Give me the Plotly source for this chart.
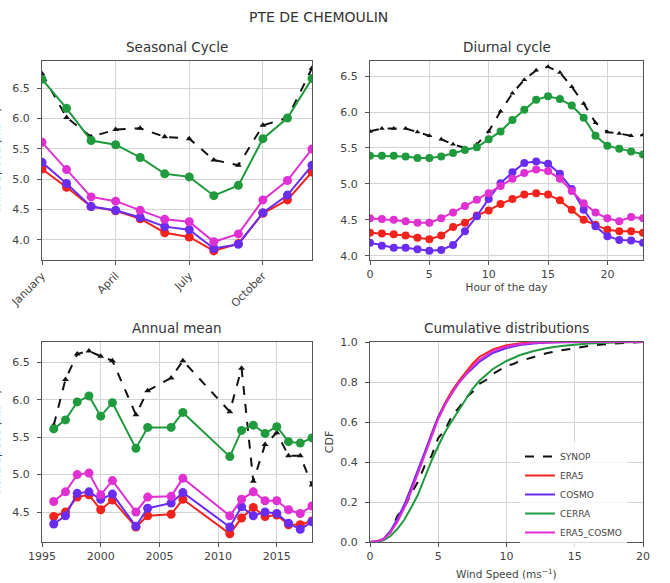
import plotly.graph_objects as go

# ---------------- DATA ----------------
series_names = ["SYNOP", "ERA5", "COSMO", "CERRA", "ERA5_COSMO"]

month_idx = [0, 1, 2, 3, 4, 5, 6, 7, 8, 9, 10, 11]
month_ticks = [0, 3, 6, 9]
month_labels = ["January", "April", "July", "October"]
season_synop = [6.74, 6.02, 5.70, 5.82, 5.84, 5.70, 5.67, 5.32, 5.23, 5.89, 6.01, 6.83]
season_era5 = [5.17, 4.87, 4.55, 4.48, 4.35, 4.12, 4.05, 3.82, 3.94, 4.44, 4.66, 5.12]
season_cosmo = [5.28, 4.93, 4.55, 4.49, 4.37, 4.22, 4.17, 3.86, 3.93, 4.45, 4.74, 5.23]
season_cerra = [6.65, 6.17, 5.64, 5.57, 5.36, 5.09, 5.04, 4.73, 4.90, 5.67, 6.01, 6.66]
season_era5cosmo = [5.61, 5.16, 4.71, 4.64, 4.49, 4.34, 4.30, 3.97, 4.10, 4.66, 4.98, 5.50]

hours = list(range(24))
diur_synop = [5.73, 5.77, 5.77, 5.77, 5.72, 5.67, 5.62, 5.55, 5.50, 5.55, 5.73, 6.01,
              6.26, 6.45, 6.58, 6.63, 6.55, 6.35, 6.12, 5.85, 5.72, 5.70, 5.67, 5.68]
diur_era5 = [4.32, 4.31, 4.30, 4.28, 4.25, 4.23, 4.28, 4.40, 4.46, 4.56, 4.63, 4.72,
             4.79, 4.85, 4.87, 4.85, 4.77, 4.64, 4.50, 4.43, 4.36, 4.34, 4.34, 4.32]
diur_cosmo = [4.18, 4.14, 4.11, 4.11, 4.09, 4.07, 4.08, 4.15, 4.34, 4.55, 4.79, 5.01,
              5.16, 5.29, 5.31, 5.28, 5.14, 4.93, 4.64, 4.41, 4.27, 4.22, 4.21, 4.18]
diur_cerra = [5.39, 5.39, 5.39, 5.38, 5.36, 5.36, 5.38, 5.43, 5.47, 5.51, 5.62, 5.73,
              5.89, 6.03, 6.17, 6.22, 6.18, 6.09, 5.92, 5.67, 5.53, 5.49, 5.45, 5.41]
diur_era5cosmo = [4.52, 4.51, 4.50, 4.48, 4.46, 4.46, 4.52, 4.60, 4.69, 4.78, 4.87, 4.97,
                  5.07, 5.15, 5.20, 5.18, 5.07, 4.90, 4.73, 4.60, 4.52, 4.48, 4.54, 4.52]

years = [1996, 1997, 1998, 1999, 2000, 2001, 2003, 2004, 2006, 2007, 2011, 2012,
         2013, 2014, 2015, 2016, 2017, 2018]
ann_synop = [5.66, 6.27, 6.61, 6.65, 6.58, 6.52, 5.80, 6.12, 6.29, 6.52, 5.84, 6.42,
             4.91, 5.40, 5.56, 5.25, 5.25, 4.86]
ann_era5 = [4.44, 4.50, 4.70, 4.73, 4.53, 4.66, 4.30, 4.45, 4.47, 4.67, 4.21, 4.42,
            4.56, 4.44, 4.46, 4.33, 4.33, 4.38]
ann_cosmo = [4.34, 4.45, 4.75, 4.77, 4.67, 4.74, 4.31, 4.55, 4.62, 4.76, 4.30, 4.57,
             4.45, 4.50, 4.48, 4.35, 4.27, 4.37]
ann_cerra = [5.61, 5.73, 5.97, 6.05, 5.78, 5.96, 5.35, 5.63, 5.63, 5.83, 5.24, 5.59,
             5.66, 5.55, 5.64, 5.44, 5.42, 5.49]
ann_era5cosmo = [4.64, 4.77, 5.00, 5.02, 4.73, 4.92, 4.50, 4.70, 4.71, 4.95, 4.45, 4.67,
                 4.77, 4.65, 4.65, 4.53, 4.48, 4.58]

ws_model = [0, 0.5, 1, 1.5, 2, 2.5, 3, 3.5, 4, 4.5, 5, 5.5, 6, 6.5, 7, 7.5, 8, 9, 10,
            11, 12, 13, 14, 15, 16, 18, 20]
cdf_era5 = [0, 0.002, 0.015, 0.05, 0.105, 0.175, 0.255, 0.345, 0.44, 0.54, 0.625, 0.695,
            0.755, 0.805, 0.85, 0.89, 0.925, 0.963, 0.984, 0.994, 0.998, 1.0, 1.0, 1.0,
            1.0, 1.0, 1.0]
cdf_cosmo = [0, 0.002, 0.016, 0.055, 0.115, 0.185, 0.27, 0.36, 0.45, 0.545, 0.625, 0.69,
             0.745, 0.795, 0.835, 0.87, 0.90, 0.945, 0.97, 0.985, 0.993, 0.997, 0.999,
             1.0, 1.0, 1.0, 1.0]
cdf_cerra = [0, 0.001, 0.008, 0.03, 0.065, 0.11, 0.17, 0.235, 0.32, 0.405, 0.48, 0.55,
             0.605, 0.66, 0.71, 0.765, 0.805, 0.865, 0.905, 0.935, 0.955, 0.97, 0.98,
             0.987, 0.992, 0.997, 1.0]
cdf_era5cosmo = [0, 0.002, 0.014, 0.048, 0.10, 0.168, 0.25, 0.34, 0.435, 0.53, 0.615,
                 0.685, 0.745, 0.797, 0.84, 0.877, 0.91, 0.955, 0.978, 0.99, 0.996,
                 0.999, 1.0, 1.0, 1.0, 1.0, 1.0]
ws_synop = [0, 0.5, 1, 1.5, 2, 2.5, 3, 3.5, 4, 4.5, 5, 5.5, 6, 6.5, 7, 7.5, 8, 8.5, 9,
            9.5, 10, 10.5, 11, 12, 13, 14, 15, 16, 17, 18, 19, 20]
cdf_synop = [0, 0.003, 0.02, 0.05, 0.13, 0.17, 0.24, 0.30, 0.38, 0.43, 0.52, 0.56, 0.63,
             0.67, 0.72, 0.75, 0.79, 0.81, 0.84, 0.86, 0.88, 0.89, 0.905, 0.925, 0.945,
             0.958, 0.97, 0.98, 0.988, 0.994, 0.997, 1.0]

# ---------------- STYLE ----------------
colors = {"SYNOP": "#111111", "ERA5": "#f2231c", "COSMO": "#6a2cf0",
          "CERRA": "#1f9a3c", "ERA5_COSMO": "#e02fd2"}
W, H = 670, 583
FONT = "DejaVu Sans"
TXT = "#444444"


def px_x(p):
    return p / W


def px_y(p):
    return 1 - p / H


fig = go.Figure()

panels = [
    ("x", "y", month_idx, [season_synop, season_era5, season_cosmo, season_cerra, season_era5cosmo], 9, 6),
    ("x2", "y2", hours, [diur_synop, diur_era5, diur_cosmo, diur_cerra, diur_era5cosmo], 8, 5),
    ("x3", "y3", years, [ann_synop, ann_era5, ann_cosmo, ann_cerra, ann_era5cosmo], 9, 6),
]
for xa, ya, xs, ys_list, msize, ssize in panels:
    for name, ys in zip(series_names, ys_list):
        if name == "SYNOP":
            fig.add_trace(go.Scatter(x=xs, y=ys, mode="lines+markers", xaxis=xa, yaxis=ya,
                                     line=dict(color=colors[name], width=2, dash="dash"),
                                     marker=dict(symbol="triangle-up", size=ssize, color=colors[name]),
                                     showlegend=False, cliponaxis=True))
        else:
            fig.add_trace(go.Scatter(x=xs, y=ys, mode="lines+markers", xaxis=xa, yaxis=ya,
                                     line=dict(color=colors[name], width=2),
                                     marker=dict(symbol="circle", size=msize, color=colors[name]),
                                     showlegend=False, cliponaxis=True))

cdf_data = [(ws_synop, cdf_synop), (ws_model, cdf_era5), (ws_model, cdf_cosmo),
            (ws_model, cdf_cerra), (ws_model, cdf_era5cosmo)]
for name, (xs, ys) in zip(series_names, cdf_data):
    fig.add_trace(go.Scatter(x=xs, y=ys, mode="lines", xaxis="x4", yaxis="y4", name=name,
                             line=dict(color=colors[name], width=2,
                                       dash="dash" if name == "SYNOP" else "solid"),
                             showlegend=True))

axis_common = dict(showline=True, mirror=True, linecolor="#555555", linewidth=1.2,
                   showgrid=True, gridcolor="#d4d4d4", gridwidth=1, zeroline=False,
                   ticks="outside", ticklen=4, tickcolor="#555555", automargin=False,
                   tickfont=dict(family=FONT, size=11, color=TXT))
yextra = dict(ticklabelstandoff=5)

# domains (pixel based)
d1x = [px_x(42), px_x(312)]
d2x = [px_x(370), px_x(643)]
top_y = [px_y(260), px_y(61)]
bot_y = [px_y(542), px_y(342)]

fig.update_layout(
    width=W, height=H, margin=dict(l=0, r=0, t=0, b=0, autoexpand=False),
    paper_bgcolor="white", plot_bgcolor="white",
    font=dict(family=FONT, color=TXT),
    xaxis=dict(axis_common, domain=d1x, anchor="y", range=[0, 11],
               tickvals=month_ticks, ticktext=month_labels, tickangle=-45),
    yaxis=dict(axis_common, **yextra, domain=top_y, anchor="x", range=[3.67, 6.95],
               tickvals=[4.0, 4.5, 5.0, 5.5, 6.0, 6.5], tickformat=".1f"),
    xaxis2=dict(axis_common, domain=d2x, anchor="y2", range=[0, 23],
                tickvals=[0, 5, 10, 15, 20],
                title=dict(text="Hour of the day", standoff=3,
                           font=dict(family=FONT, size=10.5, color=TXT))),
    yaxis2=dict(axis_common, **yextra, domain=top_y, anchor="x2", range=[3.94, 6.71],
                tickvals=[4.0, 4.5, 5.0, 5.5, 6.0, 6.5], tickformat=".1f"),
    xaxis3=dict(axis_common, domain=d1x, anchor="y3", range=[1995, 2018],
                tickvals=[1995, 2000, 2005, 2010, 2015]),
    yaxis3=dict(axis_common, **yextra, domain=bot_y, anchor="x3", range=[4.10, 6.77],
                tickvals=[4.5, 5.0, 5.5, 6.0, 6.5], tickformat=".1f"),
    xaxis4=dict(axis_common, domain=d2x, anchor="y4", range=[0, 20],
                tickvals=[0, 5, 10, 15, 20]),
    yaxis4=dict(axis_common, **yextra, domain=bot_y, anchor="x4", range=[0, 1],
                tickvals=[0, 0.2, 0.4, 0.6, 0.8, 1.0], tickformat=".1f",
                title=dict(text="CDF", standoff=4,
                           font=dict(family=FONT, size=11, color=TXT))),
    legend=dict(x=px_x(520), y=px_y(442), xanchor="left", yanchor="top",
                bgcolor="rgba(255,255,255,0.8)", borderwidth=0,
                font=dict(family=FONT, size=9, color=TXT),
                itemwidth=30, tracegroupgap=0),
)

annots = [
    ("PTE DE CHEMOULIN", 318, 17, 14),
    ("Seasonal Cycle", 177, 47, 13.5),
    ("Diurnal cycle", 507, 47, 13.5),
    ("Annual mean", 177, 328, 13.5),
    ("Cumulative distributions", 506, 328, 13.5),
]
for text, x, y, s in annots:
    fig.add_annotation(text=text, x=px_x(x), y=px_y(y), xref="paper", yref="paper",
                       showarrow=False, xanchor="center", yanchor="middle",
                       font=dict(family=FONT, size=s, color="#333333"))

# x-axis title of the CDF panel
fig.add_annotation(text="Wind Speed (ms<sup>−1</sup>)", x=px_x(506), y=px_y(573),
                   xref="paper", yref="paper", showarrow=False,
                   xanchor="center", yanchor="middle",
                   font=dict(family=FONT, size=10.5, color=TXT))

# y-axis labels of the left panels, cut by the left page edge as in the reference
for yc in (160, 442):
    fig.add_annotation(text="Wind Speed (ms<sup>−1</sup>)", x=px_x(-5), y=px_y(yc),
                       xref="paper", yref="paper", showarrow=False, textangle=-90,
                       xanchor="center", yanchor="middle",
                       font=dict(family=FONT, size=11, color=TXT))

# remove the default page margin so the 670x583 figure fills the window exactly
fig.write_html("out.html", config={"displayModeBar": False},
               post_script="document.body.style.margin='0';document.body.style.overflow='hidden';")
